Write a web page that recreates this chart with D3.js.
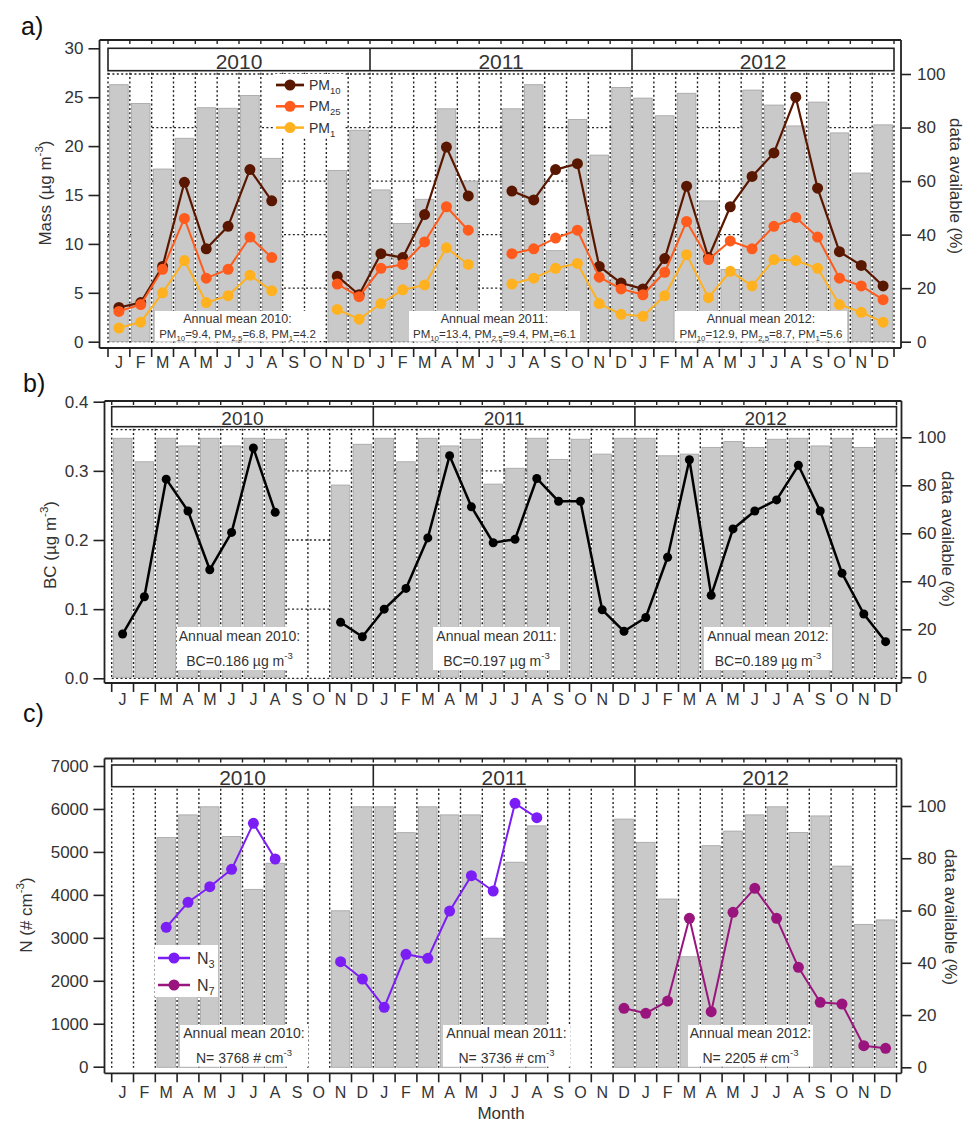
<!DOCTYPE html>
<html>
<head>
<meta charset="utf-8">
<script src="https://cdn.jsdelivr.net/npm/d3@7"></script>
<style>
  body { margin: 0; background: #fff; }
  svg { font-family: "Liberation Sans", Arial, sans-serif; }
</style>
</head>
<body>
<svg id="chart" width="967" height="1122"></svg>
<script>
const FONT = '"Liberation Sans", Arial, sans-serif';
const TEXT = '#333';
const INK = '#222';

const MONTHS = ['J', 'F', 'M', 'A', 'M', 'J', 'J', 'A', 'S', 'O', 'N', 'D'];
const MONTH_LABELS = MONTHS.concat(MONTHS, MONTHS);
const YEARS = ['2010', '2011', '2012'];
const AVAIL_TICKS = [0, 20, 40, 60, 80, 100];

// a) particle mass, monthly means Jan 2010 - Dec 2012
const PM_TICKS = [0, 5, 10, 15, 20, 25, 30];
const PM_AVAIL = [96, 89, 64.5, 76, 87.4, 87.2, 92, 68.5, null, null, 64, 79,
  56.7, 44.2, 53.2, 87, 60, null, 87, 96, 34, 83, 69.7, 95,
  91, 84.4, 92.8, 52.6, 27, 94, 88.4, 80.6, 89.5, 78, 63, 81];
const PM10 = [3.5, 4.0, 7.7, 16.3, 9.5, 11.8, 17.6, 14.4, null, null, 6.7, 4.8,
  9.0, 8.6, 13.0, 19.9, 14.9, null, 15.4, 14.5, 17.6, 18.2, 7.7, 6.0,
  5.4, 8.5, 15.9, 8.6, 13.8, 16.9, 19.3, 25.0, 15.7, 9.2, 7.8, 5.7];
const PM25 = [3.1, 3.8, 7.4, 12.6, 6.5, 7.4, 10.7, 8.6, null, null, 5.9, 4.6,
  7.5, 7.9, 10.2, 13.8, 11.4, null, 9.0, 9.5, 10.6, 11.4, 6.6, 5.4,
  4.8, 7.1, 12.3, 8.4, 10.3, 9.5, 11.8, 12.7, 10.7, 6.5, 5.7, 4.3];
const PM1 = [1.4, 2.0, 5.0, 8.3, 4.0, 4.7, 6.8, 5.2, null, null, 3.3, 2.3,
  3.9, 5.3, 5.8, 9.6, 7.9, null, 5.9, 6.5, 7.5, 8.0, 3.9, 2.8,
  2.6, 4.7, 8.9, 4.5, 7.2, 5.7, 8.4, 8.3, 7.5, 3.8, 3.0, 2.0];
const PM_MEANS = [['9.4', '6.8', '4.2'], ['13.4', '9.4', '6.1'], ['12.9', '8.7', '5.6']];

// b) black carbon
const BC_TICKS = [0, 0.1, 0.2, 0.3, 0.4];
const BC_AVAIL = [99.6, 89.8, 99.6, 96.4, 99.6, 96.4, 99.6, 99.2, null, null, 80.1, 97.1,
  99.6, 89.8, 99.6, 96.4, 99.2, 80.5, 87.1, 99.6, 90.8, 99.2, 93.0, 99.6,
  99.6, 92.3, 93.0, 95.8, 98.2, 95.8, 99.2, 99.6, 96.4, 99.6, 95.8, 99.6];
const BC = [0.064, 0.118, 0.288, 0.242, 0.157, 0.211, 0.333, 0.240, null, null, 0.081, 0.060,
  0.100, 0.130, 0.203, 0.322, 0.248, 0.196, 0.201, 0.289, 0.256, 0.256, 0.099, 0.068,
  0.088, 0.175, 0.316, 0.120, 0.216, 0.242, 0.258, 0.308, 0.242, 0.152, 0.093, 0.053];
const BC_MEANS = ['0.186', '0.197', '0.189'];

// c) particle number
const N_TICKS = [0, 1000, 2000, 3000, 4000, 5000, 6000, 7000];
const N_AVAIL = [null, null, 87.9, 96.6, 99.7, 88.3, 68.1, 78.1, null, null, 59.9, 99.7,
  99.7, 89.8, 99.7, 96.6, 96.6, 49.4, 78.5, 92.4, null, null, null, 95.0,
  86.1, 64.4, 42.3, 84.8, 90.4, 96.6, 99.7, 89.9, 96.2, 77.0, 54.7, 56.4];
const N3 = [null, null, 3245, 3827, 4190, 4595, 5666, 4835, null, null, 2444, 2041,
  1383, 2616, 2523, 3624, 4446, 4090, 6131, 5796, null, null, null, null,
  null, null, null, null, null, null, null, null, null, null, null, null];
const N7 = [null, null, null, null, null, null, null, null, null, null, null, null,
  null, null, null, null, null, null, null, null, null, null, null, 1359,
  1243, 1529, 3454, 1280, 3594, 4153, 3454, 2314, 1499, 1459, 489, 428];
const N_MEANS = ['3768', '3736', '2205'];

const svg = d3.select('#chart');

// append text made of plain / sub / sup pieces
function rich(text, parts, size) {
  let shift = 0;
  parts.forEach(([s, kind]) => {
    const target = kind === 'sub' ? size * 0.3 : kind === 'sup' ? -size * 0.5 : 0;
    const t = text.append('tspan').text(s).attr('dy', target - shift);
    if (kind) t.attr('font-size', size * 0.68);
    shift = target;
  });
  return text;
}

function drawPanel(p) {
  const g = svg.append('g');
  const x = d3.scaleBand().domain(d3.range(36)).range([p.x0, p.x1])
    .paddingInner(0.15).paddingOuter(0.075);
  const yL = d3.scaleLinear().domain(p.leftDomain).range(p.leftRange);
  const yR = d3.scaleLinear().domain([0, 100]).range(p.rightRange);
  const bounds = d3.range(37).map(k => p.x0 + k * x.step());
  const cx = i => x(i) + x.bandwidth() / 2;

  // horizontal grid (behind bars)
  const gy = p.gridSide === 'right' ? yR : yL;
  g.selectAll('.hgrid').data(p.gridValues).enter().append('line')
    .attr('x1', p.x0).attr('x2', p.x1)
    .attr('y1', d => gy(d)).attr('y2', d => gy(d))
    .attr('stroke', INK).attr('stroke-width', 1.3).attr('stroke-dasharray', '2,2.4');
  if (p.topLine) {
    g.append('line').attr('x1', p.x0).attr('x2', p.x1)
      .attr('y1', p.band[1] + 3).attr('y2', p.band[1] + 3)
      .attr('stroke', INK).attr('stroke-width', 1.3).attr('stroke-dasharray', '2,2.4');
  }

  // data availability bars
  g.selectAll('.bar')
    .data(p.avail.map((v, i) => ({ i, v })).filter(d => d.v != null))
    .enter().append('rect')
    .attr('x', d => x(d.i)).attr('width', x.bandwidth())
    .attr('y', d => yR(d.v)).attr('height', d => yR(0) - yR(d.v))
    .attr('fill', '#c9c9c9').attr('stroke', '#a3a3a3').attr('stroke-width', 0.8);

  // month separators
  g.selectAll('.vgrid').data(bounds).enter().append('line')
    .attr('x1', d => d).attr('x2', d => d)
    .attr('y1', p.band[1] + 2).attr('y2', yL(p.leftDomain[0]) + 1)
    .attr('stroke', INK).attr('stroke-width', 1.4).attr('stroke-dasharray', '2,2.4');
  g.selectAll('.ttick').data(bounds).enter().append('line')
    .attr('x1', d => d).attr('x2', d => d)
    .attr('y1', p.top).attr('y2', p.top + 4)
    .attr('stroke', INK).attr('stroke-width', 1.4);

  // year band
  g.append('rect').attr('x', bounds[0]).attr('y', p.band[0])
    .attr('width', bounds[36] - bounds[0]).attr('height', p.band[1] - p.band[0])
    .attr('fill', '#fff').attr('stroke', INK).attr('stroke-width', 1.6);
  [12, 24].forEach(k => g.append('line')
    .attr('x1', bounds[k]).attr('x2', bounds[k])
    .attr('y1', p.band[0]).attr('y2', p.band[1])
    .attr('stroke', INK).attr('stroke-width', 1.6));
  g.selectAll('.year').data(YEARS).enter().append('text')
    .attr('x', (d, k) => (bounds[k * 12] + bounds[k * 12 + 12]) / 2)
    .attr('y', p.band[1] - 2)
    .attr('text-anchor', 'middle').attr('font-size', p.yearFont).attr('fill', TEXT)
    .text(d => d);

  // frame
  const frame = [
    [p.left, p.top, p.right, p.top],
    [p.left, p.top, p.left, p.bottom],
    [p.right, p.top, p.right, p.bottom],
    [p.left, p.bottom, p.right, p.bottom]
  ];
  g.selectAll('.frame').data(frame).enter().append('line')
    .attr('x1', d => d[0]).attr('y1', d => d[1]).attr('x2', d => d[2]).attr('y2', d => d[3])
    .attr('stroke', INK).attr('stroke-width', 1.8);

  // axes
  const left = g.append('g').attr('transform', `translate(${p.left},0)`)
    .call(d3.axisLeft(yL).tickValues(p.leftTicks).tickSize(11).tickPadding(5).tickFormat(p.leftFormat));
  const right = g.append('g').attr('transform', `translate(${p.right},0)`)
    .call(d3.axisRight(yR).tickValues(AVAIL_TICKS).tickSize(10).tickPadding(6));
  const bottom = g.append('g').attr('transform', `translate(0,${p.bottom})`)
    .call(d3.axisBottom(x).tickSize(0).tickPadding(p.monthPad).tickFormat(i => MONTH_LABELS[i]));
  [left, right, bottom].forEach(a => {
    a.select('.domain').remove();
    a.attr('font-family', FONT).attr('font-size', 17);
    a.selectAll('text').attr('fill', TEXT);
    a.selectAll('line').attr('stroke', INK).attr('stroke-width', 1.6);
  });
  bottom.attr('font-size', 16);
  g.selectAll('.btick').data(bounds).enter().append('line')
    .attr('x1', d => d).attr('x2', d => d)
    .attr('y1', p.bottom).attr('y2', p.bottom + 9)
    .attr('stroke', INK).attr('stroke-width', 1.6);

  // axis titles
  rich(g.append('text')
    .attr('transform', `translate(${p.leftTitle[0]},${p.leftTitle[1]}) rotate(-90)`)
    .attr('text-anchor', 'middle').attr('font-size', 17).attr('fill', TEXT), p.leftTitleParts, 17);
  g.append('text')
    .attr('transform', `translate(${p.rightTitle[0]},${p.rightTitle[1]}) rotate(90)`)
    .attr('text-anchor', 'middle').attr('font-size', 17).attr('fill', TEXT)
    .text('data available (%)');

  // annual mean boxes
  p.notes.forEach(n => {
    g.append('rect').attr('x', n.x0).attr('y', n.y0)
      .attr('width', n.x1 - n.x0).attr('height', n.y1 - n.y0).attr('fill', '#fff');
    const cxn = (n.x0 + n.x1) / 2;
    g.append('text').attr('x', cxn).attr('y', n.b1).attr('text-anchor', 'middle')
      .attr('font-size', n.f1).attr('fill', TEXT).text(n.title);
    rich(g.append('text').attr('x', cxn).attr('y', n.b2).attr('text-anchor', 'middle')
      .attr('font-size', n.f2).attr('fill', TEXT), n.parts, n.f2);
  });

  // series lines and markers
  p.series.forEach(s => {
    const pts = s.values.map((v, i) => ({ i, v }));
    const line = d3.line().defined(d => d.v != null).x(d => cx(d.i)).y(d => yL(d.v));
    g.append('path').datum(pts).attr('d', line)
      .attr('fill', 'none').attr('stroke', s.color).attr('stroke-width', s.width)
      .attr('stroke-linejoin', 'round');
    g.selectAll(null).data(pts.filter(d => d.v != null)).enter().append('circle')
      .attr('cx', d => cx(d.i)).attr('cy', d => yL(d.v)).attr('r', s.r)
      .attr('fill', s.color);
  });

  // legend
  if (p.legend) {
    const L = p.legend;
    g.append('rect').attr('x', L.x).attr('y', L.y).attr('width', L.w).attr('height', L.h).attr('fill', '#fff');
    p.series.forEach((s, k) => {
      const yy = L.y + L.first + k * L.gap;
      g.append('line').attr('x1', L.x + L.lx0).attr('x2', L.x + L.lx1).attr('y1', yy).attr('y2', yy)
        .attr('stroke', s.color).attr('stroke-width', s.width + 0.5);
      g.append('circle').attr('cx', L.x + (L.lx0 + L.lx1) / 2).attr('cy', yy).attr('r', s.r).attr('fill', s.color);
      rich(g.append('text').attr('x', L.x + L.tx).attr('y', yy + L.font * 0.35)
        .attr('font-size', L.font).attr('fill', TEXT), s.label, L.font);
    });
  }

  g.append('text').attr('x', p.tag[0]).attr('y', p.tag[1]).attr('font-size', 25).attr('fill', '#111')
    .text(p.tagText);
}

const sub = s => [s, 'sub'];
const sup = s => [s, 'sup'];
const NOTE_X = {
  a: [[155, 320], [409, 580], [675, 847]],
  b: [[177, 302], [433, 560], [704, 832]],
  c: [[180, 308], [443, 570], [688, 813]]
};

drawPanel({
  tagText: 'a)', tag: [21, 35],
  top: 40, bottom: 348, left: 99.5, right: 901, x0: 108, x1: 894,
  leftDomain: [0, 30], leftRange: [341.7, 48.3], rightRange: [341.7, 74],
  leftTicks: PM_TICKS, leftFormat: d3.format('d'),
  band: [48.3, 70.7], yearFont: 21, monthPad: 9,
  gridSide: 'right', gridValues: AVAIL_TICKS, topLine: false,
  avail: PM_AVAIL,
  leftTitle: [51, 193], leftTitleParts: [['Mass (µg m'], sup('-3'), [')']],
  rightTitle: [950, 186],
  series: [
    { values: PM10, color: '#5a1700', width: 2.2, r: 5.5, label: [['PM'], sub('10')] },
    { values: PM25, color: '#ff5b1c', width: 2, r: 5.5, label: [['PM'], sub('25')] },
    { values: PM1, color: '#ffb120', width: 2, r: 5.5, label: [['PM'], sub('1')] }
  ],
  legend: { x: 274, y: 74, w: 70, h: 64, first: 11, gap: 21.3, lx0: 2, lx1: 30, tx: 35, font: 14 },
  notes: PM_MEANS.map((m, k) => ({
    x0: NOTE_X.a[k][0], x1: NOTE_X.a[k][1], y0: 311, y1: 341.5,
    b1: 323, b2: 338, f1: 12.5, f2: 11.5,
    title: `Annual mean ${YEARS[k]}:`,
    parts: [['PM'], sub('10'), [`=${m[0]}, PM`], sub('2.5'), [`=${m[1]}, PM`], sub('1'), [`=${m[2]}`]]
  }))
});

drawPanel({
  tagText: 'b)', tag: [23, 392],
  top: 401, bottom: 683, left: 104.5, right: 901.5, x0: 111.7, x1: 896.5,
  leftDomain: [0, 0.4], leftRange: [678.3, 401.7], rightRange: [677.3, 437.3],
  leftTicks: BC_TICKS, leftFormat: d3.format('.1f'),
  band: [406.7, 426.7], yearFont: 19, monthPad: 11,
  gridSide: 'left', gridValues: [0, 0.1, 0.2, 0.3], topLine: true,
  avail: BC_AVAIL,
  leftTitle: [56, 545], leftTitleParts: [['BC (µg m'], sup('-3'), [')']],
  rightTitle: [942, 539],
  series: [{ values: BC, color: '#000', width: 2.5, r: 4.5 }],
  notes: BC_MEANS.map((m, k) => ({
    x0: NOTE_X.b[k][0], x1: NOTE_X.b[k][1], y0: 627, y1: 670,
    b1: 641, b2: 666, f1: 14, f2: 14,
    title: `Annual mean ${YEARS[k]}:`,
    parts: [[`BC=${m} µg m`], sup('-3')]
  }))
});

drawPanel({
  tagText: 'c)', tag: [23, 722],
  top: 758.5, bottom: 1073.3, left: 104.5, right: 901.5, x0: 111.7, x1: 896.5,
  leftDomain: [0, 7000], leftRange: [1066.7, 766], rightRange: [1067.3, 806],
  leftTicks: N_TICKS, leftFormat: d3.format('d'),
  band: [765, 786.7], yearFont: 21, monthPad: 13,
  gridSide: 'left', gridValues: [], topLine: false,
  avail: N_AVAIL,
  leftTitle: [32, 915], leftTitleParts: [['N (# cm'], sup('-3'), [')']],
  rightTitle: [945, 917],
  series: [
    { values: N3, color: '#7b1df5', width: 2, r: 5.5, label: [['N'], sub('3')] },
    { values: N7, color: '#99157d', width: 2, r: 5.5, label: [['N'], sub('7')] }
  ],
  legend: { x: 155, y: 945, w: 63, h: 52, first: 13, gap: 27, lx0: 3, lx1: 35, tx: 42, font: 16 },
  notes: N_MEANS.map((m, k) => ({
    x0: NOTE_X.c[k][0], x1: NOTE_X.c[k][1], y0: 1025, y1: 1066.7,
    b1: 1038, b2: 1063, f1: 14, f2: 14,
    title: `Annual mean ${YEARS[k]}:`,
    parts: [[`N= ${m} # cm`], sup('-3')]
  }))
});

svg.append('text').attr('x', 501).attr('y', 1119).attr('text-anchor', 'middle')
  .attr('font-size', 17).attr('fill', TEXT).text('Month');
</script>
</body>
</html>
